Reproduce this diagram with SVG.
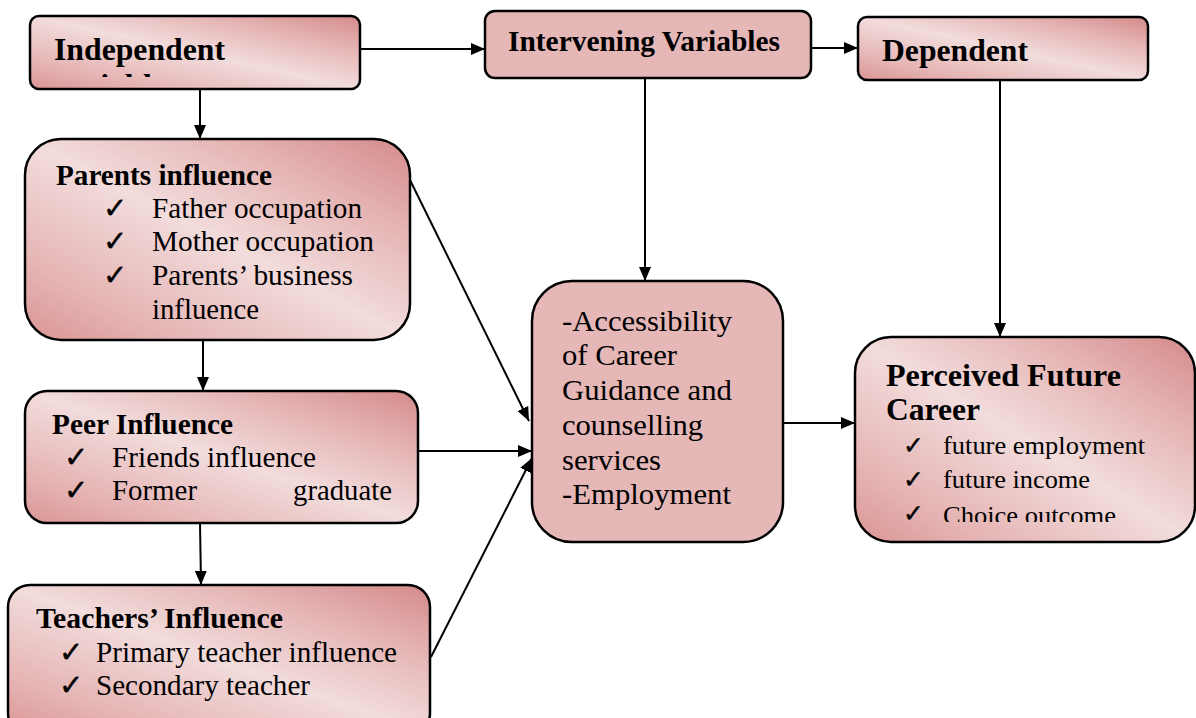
<svg xmlns="http://www.w3.org/2000/svg" width="1196" height="718" viewBox="0 0 1196 718">
<defs>
  <linearGradient id="pinkGrad" x1="0" y1="1" x2="1" y2="0">
    <stop offset="0" stop-color="#d99594"/>
    <stop offset="0.2" stop-color="#e6b5b5"/>
    <stop offset="0.5" stop-color="#f2dcdc"/>
    <stop offset="0.75" stop-color="#e6b6b6"/>
    <stop offset="1" stop-color="#d48a8a"/>
  </linearGradient>
  <marker id="arrow" markerUnits="userSpaceOnUse" markerWidth="14" markerHeight="14" refX="14" refY="7" orient="auto">
    <path d="M0,1 L14,7 L0,13 z" fill="#000"/>
  </marker>
  <clipPath id="clipIndep"><rect x="30" y="16" width="330" height="61"/></clipPath>
  <clipPath id="clipPerc"><rect x="855" y="336" width="340" height="186"/></clipPath>
</defs>
<style>
  .grad { fill: url(#pinkGrad); stroke: #000; stroke-width: 2.5; }
  .solid { fill: #e5b7b7; stroke: #000; stroke-width: 2.5; }
  .t { font-family: "Liberation Serif", "Times New Roman", serif; fill: #000; }
  .b { font-weight: bold; }
  .chk { font-family: "DejaVu Sans", sans-serif; fill: #000; stroke: #000; stroke-width: 0.4; }
  .conn line { stroke: #000; stroke-width: 2; marker-end: url(#arrow); }
</style>
<rect width="1196" height="718" fill="#fff"/>

<g id="connectors" class="conn">
  <line x1="360" y1="49" x2="485" y2="49"/>
  <line x1="811" y1="48" x2="858" y2="48"/>
  <line x1="200" y1="89" x2="200" y2="139"/>
  <line x1="203" y1="340" x2="203" y2="391"/>
  <line x1="200" y1="523" x2="201" y2="585"/>
  <line x1="645" y1="78" x2="645" y2="281"/>
  <line x1="1000" y1="80" x2="1000" y2="337"/>
  <line x1="410" y1="180" x2="529" y2="421"/>
  <line x1="418" y1="451" x2="532" y2="451"/>
  <line x1="431" y1="657" x2="532" y2="458"/>
  <line x1="783" y1="423" x2="855" y2="423"/>
</g>

<g id="independent">
  <rect class="grad" x="30" y="16" width="330" height="73" rx="9"/>
  <text class="t b" x="54" y="60" font-size="32" textLength="171" lengthAdjust="spacingAndGlyphs">Independent</text>
  <text class="t b" x="54" y="96" font-size="32" clip-path="url(#clipIndep)">variables</text>
</g>

<g id="intervening">
  <rect class="solid" x="485" y="11" width="326" height="67" rx="10"/>
  <text class="t b" x="508" y="51" font-size="29" textLength="272" lengthAdjust="spacingAndGlyphs">Intervening Variables</text>
</g>

<g id="dependent">
  <rect class="grad" x="858" y="17" width="290" height="63" rx="9"/>
  <text class="t b" x="882" y="61" font-size="32" textLength="146" lengthAdjust="spacingAndGlyphs">Dependent</text>
</g>

<g id="parents">
  <rect class="grad" x="25" y="139" width="385" height="201" rx="36"/>
  <text class="t b" x="56" y="185" font-size="29" textLength="216" lengthAdjust="spacingAndGlyphs">Parents influence</text>
  <text class="chk" x="103" y="218" font-size="29">✓</text>
  <text class="t" x="152" y="218" font-size="29" textLength="210" lengthAdjust="spacingAndGlyphs">Father occupation</text>
  <text class="chk" x="103" y="251" font-size="29">✓</text>
  <text class="t" x="152" y="251" font-size="29" textLength="222" lengthAdjust="spacingAndGlyphs">Mother occupation</text>
  <text class="chk" x="103" y="285" font-size="29">✓</text>
  <text class="t" x="152" y="285" font-size="29" textLength="201" lengthAdjust="spacingAndGlyphs">Parents’ business</text>
  <text class="t" x="152" y="319" font-size="29" textLength="107" lengthAdjust="spacingAndGlyphs">influence</text>
</g>

<g id="peer">
  <rect class="grad" x="25" y="391" width="393" height="132" rx="22"/>
  <text class="t b" x="52" y="434" font-size="29" textLength="181" lengthAdjust="spacingAndGlyphs">Peer Influence</text>
  <text class="chk" x="64" y="467" font-size="29">✓</text>
  <text class="t" x="112" y="467" font-size="29" textLength="204" lengthAdjust="spacingAndGlyphs">Friends influence</text>
  <text class="chk" x="64" y="500" font-size="29">✓</text>
  <text class="t" x="112" y="500" font-size="29" textLength="85" lengthAdjust="spacingAndGlyphs">Former</text>
  <text class="t" x="293" y="500" font-size="29" textLength="99" lengthAdjust="spacingAndGlyphs">graduate</text>
</g>

<g id="teachers">
  <rect class="grad" x="8" y="585" width="422" height="150" rx="22"/>
  <text class="t b" x="36" y="628" font-size="29" textLength="247" lengthAdjust="spacingAndGlyphs">Teachers’ Influence</text>
  <text class="chk" x="59" y="662" font-size="29">✓</text>
  <text class="t" x="96" y="662" font-size="29" textLength="301" lengthAdjust="spacingAndGlyphs">Primary teacher influence</text>
  <text class="chk" x="59" y="695" font-size="29">✓</text>
  <text class="t" x="96" y="695" font-size="29" textLength="214" lengthAdjust="spacingAndGlyphs">Secondary teacher</text>
</g>

<g id="accessibility">
  <rect class="solid" x="532" y="281" width="251" height="261" rx="40"/>
  <text class="t" x="562" y="331" font-size="30" textLength="170" lengthAdjust="spacingAndGlyphs">-Accessibility</text>
  <text class="t" x="562" y="365" font-size="30" textLength="115" lengthAdjust="spacingAndGlyphs">of Career</text>
  <text class="t" x="562" y="400" font-size="30" textLength="170" lengthAdjust="spacingAndGlyphs">Guidance and</text>
  <text class="t" x="562" y="435" font-size="30" textLength="141" lengthAdjust="spacingAndGlyphs">counselling</text>
  <text class="t" x="562" y="470" font-size="30" textLength="99" lengthAdjust="spacingAndGlyphs">services</text>
  <text class="t" x="562" y="504" font-size="30" textLength="169" lengthAdjust="spacingAndGlyphs">-Employment</text>
</g>

<g id="perceived">
  <rect class="grad" x="855" y="337" width="340" height="205" rx="36"/>
  <text class="t b" x="886" y="386" font-size="31" textLength="235" lengthAdjust="spacingAndGlyphs">Perceived Future</text>
  <text class="t b" x="886" y="420" font-size="31" textLength="94" lengthAdjust="spacingAndGlyphs">Career</text>
  <text class="chk" x="903" y="454" font-size="25">✓</text>
  <text class="t" x="943" y="454" font-size="25" textLength="202" lengthAdjust="spacingAndGlyphs">future employment</text>
  <text class="chk" x="903" y="488" font-size="25">✓</text>
  <text class="t" x="943" y="488" font-size="25" textLength="147" lengthAdjust="spacingAndGlyphs">future income</text>
  <g clip-path="url(#clipPerc)">
    <text class="chk" x="903" y="522" font-size="25">✓</text>
    <text class="t" x="943" y="524" font-size="25" textLength="173" lengthAdjust="spacingAndGlyphs">Choice outcome</text>
  </g>
</g>
</svg>
